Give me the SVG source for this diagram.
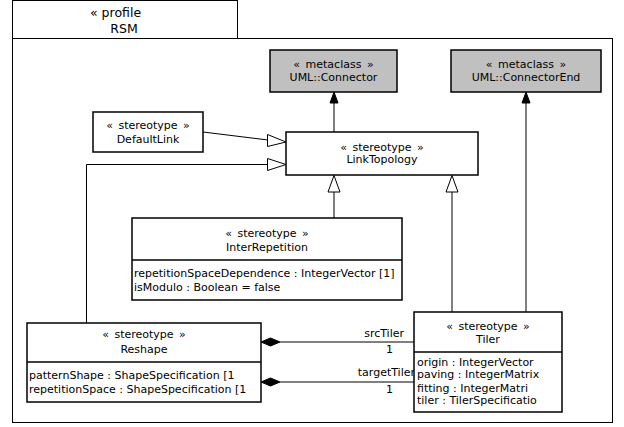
<svg xmlns="http://www.w3.org/2000/svg" width="624" height="427" viewBox="0 0 624 427">
<style>
text{font-family:"DejaVu Sans","Liberation Sans",sans-serif;font-size:11px;fill:#000}
.c{text-anchor:middle}
.st{word-spacing:2px}
.box{fill:#fff;stroke:#000;stroke-width:1.5}
.meta{fill:#c0c0c0;stroke:#000;stroke-width:1.5}
.ln{fill:none;stroke:#000;stroke-width:1}
.gen{fill:#fff;stroke:#000;stroke-width:1}
.fil{fill:#000;stroke:#000;stroke-width:1}
.tab{font-size:12.5px}
</style>
<rect x="0" y="0" width="624" height="427" fill="#fff"/>
<g id="profile">
<rect x="12.5" y="0.5" width="225" height="38" fill="#fff" stroke="#000" stroke-width="1"/>
<rect x="12.5" y="38.5" width="600" height="384" fill="none" stroke="#000" stroke-width="1"/>
<text x="90" y="17" class="tab">« profile</text>
<text x="124" y="33" class="c tab">RSM</text>
</g>
<g id="connectors">
<line class="ln" x1="334" y1="132" x2="334" y2="102"/>
<polygon class="fil" points="334,92 330,103 338,103"/>
<line class="ln" x1="526" y1="312" x2="526" y2="102"/>
<polygon class="fil" points="526,92 522,103 530,103"/>
<line class="ln" x1="203" y1="132" x2="268" y2="140"/>
<polygon class="gen" points="286,142 267.5,134.5 267.5,146.5"/>
<polyline class="ln" points="86.5,323 86.5,164.5 267,164.5"/>
<polygon class="gen" points="286,164.5 267.5,158.5 267.5,170.5"/>
<line class="ln" x1="334" y1="218" x2="334" y2="192"/>
<polygon class="gen" points="334,175.5 328,192 340,192"/>
<line class="ln" x1="452" y1="312" x2="452" y2="192"/>
<polygon class="gen" points="452,175.5 446,192 458,192"/>
<line class="ln" x1="280" y1="342" x2="414" y2="342"/>
<polygon class="fil" points="261,342 270.5,338 280,342 270.5,346"/>
<line class="ln" x1="280" y1="382" x2="414" y2="382"/>
<polygon class="fil" points="261,382 270.5,378 280,382 270.5,386"/>
<text x="404" y="337" text-anchor="end">srcTiler</text>
<text x="389.5" y="353" class="c">1</text>
<text x="415" y="376" text-anchor="end">targetTiler</text>
<text x="389.5" y="393" class="c">1</text>
</g>
<g id="connector">
<rect class="meta" x="270" y="50" width="127" height="42"/>
<text x="333.5" y="68" class="c st">« metaclass »</text>
<text x="333.5" y="81" class="c">UML::Connector</text>
</g>
<g id="connectorEnd">
<rect class="meta" x="451" y="50" width="150" height="42"/>
<text x="526" y="68" class="c st">« metaclass »</text>
<text x="526" y="81" class="c">UML::ConnectorEnd</text>
</g>
<g id="linkTopology">
<rect class="box" x="286" y="132" width="192" height="43"/>
<text x="382" y="151" class="c st">« stereotype »</text>
<text x="382" y="163" class="c">LinkTopology</text>
</g>
<g id="defaultLink">
<rect class="box" x="93" y="112" width="110" height="40"/>
<text x="148" y="129" class="c st">« stereotype »</text>
<text x="148" y="143" class="c">DefaultLink</text>
</g>
<g id="interRepetition">
<rect class="box" x="132" y="218" width="270" height="82"/>
<line x1="132" y1="260" x2="402" y2="260" stroke="#000" stroke-width="1.5"/>
<text x="267" y="237" class="c st">« stereotype »</text>
<text x="267" y="251" class="c">InterRepetition</text>
<text x="134" y="277">repetitionSpaceDependence : IntegerVector [1]</text>
<text x="134" y="291">isModulo : Boolean = false</text>
</g>
<g id="reshape">
<rect class="box" x="27" y="323" width="234" height="79"/>
<line x1="27" y1="362" x2="261" y2="362" stroke="#000" stroke-width="1.5"/>
<text x="144" y="338" class="c st">« stereotype »</text>
<text x="144" y="353" class="c">Reshape</text>
<text x="29" y="379">patternShape : ShapeSpecification [1</text>
<text x="29" y="393">repetitionSpace : ShapeSpecification [1</text>
</g>
<g id="tiler">
<rect class="box" x="414" y="312" width="148" height="100"/>
<line x1="414" y1="352" x2="562" y2="352" stroke="#000" stroke-width="1.5"/>
<text x="488" y="330" class="c st">« stereotype »</text>
<text x="488" y="343" class="c">Tiler</text>
<text x="417" y="366">origin : IntegerVector</text>
<text x="417" y="378">paving : IntegerMatrix</text>
<text x="417" y="392">fitting : IntegerMatri</text>
<text x="417" y="404">tiler : TilerSpecificatio</text>
</g>
</svg>
